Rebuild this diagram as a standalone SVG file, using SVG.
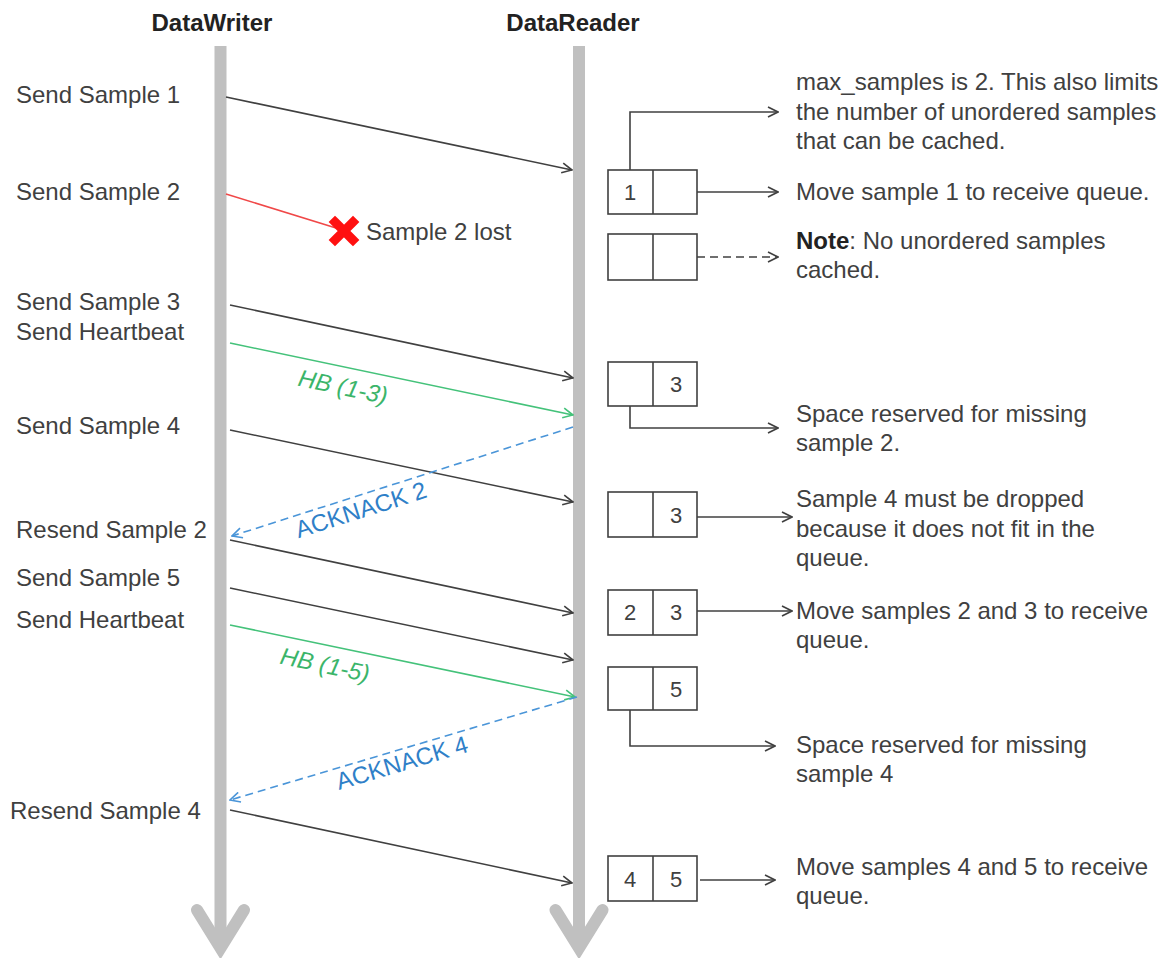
<svg xmlns="http://www.w3.org/2000/svg" width="1169" height="958" viewBox="0 0 1169 958">
<defs>
<style>
text{font-family:"Liberation Sans",Arial,sans-serif;font-size:24px;fill:#404040}
.title{font-weight:bold;fill:#222;text-anchor:middle}
.num{text-anchor:middle;font-size:22px}
.life{stroke:#c0c0c0;stroke-width:12;fill:none;stroke-linecap:butt}
.head{stroke:#c0c0c0;stroke-width:12;fill:none;stroke-linecap:round;stroke-linejoin:miter;stroke-miterlimit:10}
.msg{stroke:#404040;stroke-width:1.6;fill:none;marker-end:url(#ab)}
.hb{stroke:#44c27a;stroke-width:1.6;fill:none;marker-end:url(#ag)}
.ack{stroke:#4a95d8;stroke-width:1.6;fill:none;stroke-dasharray:8 5;marker-end:url(#au)}
.lost{stroke:#f04848;stroke-width:1.6;fill:none}
.box{fill:#fff;stroke:#404040;stroke-width:1.6}
.note{stroke:#404040;stroke-width:1.6;fill:none;marker-end:url(#ab)}
.green{fill:#3bb56a;font-style:italic}
.blue{fill:#2f80c8}
</style>
<marker id="ab" viewBox="0 0 12 12" refX="11" refY="6" markerWidth="12" markerHeight="12" markerUnits="userSpaceOnUse" orient="auto"><path d="M1,1 L11,6 L1,11" fill="none" stroke="#404040" stroke-width="1.6"/></marker>
<marker id="ag" viewBox="0 0 12 12" refX="11" refY="6" markerWidth="12" markerHeight="12" markerUnits="userSpaceOnUse" orient="auto"><path d="M1,1 L11,6 L1,11" fill="none" stroke="#44c27a" stroke-width="1.6"/></marker>
<marker id="au" viewBox="0 0 12 12" refX="11" refY="6" markerWidth="12" markerHeight="12" markerUnits="userSpaceOnUse" orient="auto"><path d="M1,1 L11,6 L1,11" fill="none" stroke="#4a95d8" stroke-width="1.6"/></marker>
</defs>
<rect width="1169" height="958" fill="#fff"/>

<g id="writer">
<text class="title" x="212" y="31">DataWriter</text>
<line class="life" x1="220.5" y1="46" x2="220.5" y2="945"/>
<polyline class="head" points="197,910 220.5,948 244,910"/>
</g>
<g id="reader">
<text class="title" x="573" y="31">DataReader</text>
<line class="life" x1="579" y1="46" x2="579" y2="945"/>
<polyline class="head" points="555.5,910 579,948 602.5,910"/>
</g>

<g id="writer-labels">
<text x="16" y="103">Send Sample 1</text>
<text x="16" y="200">Send Sample 2</text>
<text x="16" y="310">Send Sample 3</text>
<text x="16" y="340">Send Heartbeat</text>
<text x="16" y="434">Send Sample 4</text>
<text x="16" y="538">Resend Sample 2</text>
<text x="16" y="586">Send Sample 5</text>
<text x="16" y="628">Send Heartbeat</text>
<text x="10" y="819">Resend Sample 4</text>
</g>

<g id="connectors">
<line class="msg" x1="226" y1="97" x2="572" y2="170"/>
<line class="lost" x1="226" y1="194" x2="336" y2="228"/>
<line class="msg" x1="230" y1="305" x2="573" y2="378"/>
<line class="hb" x1="230" y1="343" x2="573" y2="415"/>
<line class="msg" x1="230" y1="430" x2="573" y2="502"/>
<line class="ack" x1="573" y1="427" x2="232" y2="536"/>
<line class="msg" x1="230" y1="540" x2="573" y2="613"/>
<line class="msg" x1="230" y1="588" x2="573" y2="660"/>
<line class="hb" x1="230" y1="625" x2="575" y2="697"/>
<line class="ack" x1="577" y1="697" x2="230" y2="800"/>
<line class="msg" x1="230" y1="810" x2="572" y2="883"/>

<polyline class="note" points="630,170 630,112 778,112"/>
<line class="note" x1="697" y1="192" x2="778" y2="192"/>
<line class="note" x1="697" y1="257" x2="778" y2="257" stroke-dasharray="8 5"/>
<polyline class="note" points="630,406 630,428 778,428"/>
<line class="note" x1="697" y1="517" x2="792" y2="517"/>
<line class="note" x1="697" y1="611" x2="792" y2="611"/>
<polyline class="note" points="630,710 630,746 775,746"/>
<line class="note" x1="700" y1="880" x2="775" y2="880"/>
</g>

<g id="msg-labels">
<text class="green" x="343" y="395" text-anchor="middle" transform="rotate(12 343 387)">HB (1-3)</text>
<text class="blue" x="361" y="518" text-anchor="middle" transform="rotate(-17.6 361 510)">ACKNACK 2</text>
<text class="green" x="325" y="673" text-anchor="middle" transform="rotate(12 325 665)">HB (1-5)</text>
<text class="blue" x="402" y="771" text-anchor="middle" transform="rotate(-16.5 402 763)">ACKNACK 4</text>
</g>

<g id="lost">
<path d="M335,222 L353,240 M353,222 L335,240" stroke="#ff1010" stroke-width="9" stroke-linecap="square" fill="none"/>
<text x="366" y="240">Sample 2 lost</text>
</g>

<g id="box1">
<rect class="box" x="608" y="170" width="89" height="44"/>
<line class="box" x1="653" y1="170" x2="653" y2="214"/>
<text class="num" x="630" y="200">1</text>
</g>
<g id="box2">
<rect class="box" x="608" y="234" width="89" height="46"/>
<line class="box" x1="653" y1="234" x2="653" y2="280"/>
</g>
<g id="box3">
<rect class="box" x="608" y="362" width="89" height="44"/>
<line class="box" x1="653" y1="362" x2="653" y2="406"/>
<text class="num" x="676" y="392">3</text>
</g>
<g id="box4">
<rect class="box" x="608" y="492" width="89" height="45"/>
<line class="box" x1="653" y1="492" x2="653" y2="537"/>
<text class="num" x="676" y="523">3</text>
</g>
<g id="box5">
<rect class="box" x="608" y="590" width="89" height="45"/>
<line class="box" x1="653" y1="590" x2="653" y2="635"/>
<text class="num" x="630" y="620">2</text>
<text class="num" x="676" y="620">3</text>
</g>
<g id="box6">
<rect class="box" x="608" y="667" width="89" height="43"/>
<line class="box" x1="653" y1="667" x2="653" y2="710"/>
<text class="num" x="676" y="697">5</text>
</g>
<g id="box7">
<rect class="box" x="608" y="856" width="89" height="45"/>
<line class="box" x1="653" y1="856" x2="653" y2="901"/>
<text class="num" x="630" y="887">4</text>
<text class="num" x="676" y="887">5</text>
</g>

<g id="notes">
<text x="796" y="90">max_samples is 2. This also limits</text>
<text x="796" y="120">the number of unordered samples</text>
<text x="796" y="149">that can be cached.</text>
<text x="796" y="200">Move sample 1 to receive queue.</text>
<text x="796" y="249"><tspan font-weight="bold" fill="#222">Note</tspan>: No unordered samples</text>
<text x="796" y="278">cached.</text>
<text x="796" y="422">Space reserved for missing</text>
<text x="796" y="451">sample 2.</text>
<text x="796" y="507">Sample 4 must be dropped</text>
<text x="796" y="537">because it does not fit in the</text>
<text x="796" y="566">queue.</text>
<text x="796" y="619">Move samples 2 and 3 to receive</text>
<text x="796" y="648">queue.</text>
<text x="796" y="753">Space reserved for missing</text>
<text x="796" y="782">sample 4</text>
<text x="796" y="875">Move samples 4 and 5 to receive</text>
<text x="796" y="904">queue.</text>
</g>
</svg>
